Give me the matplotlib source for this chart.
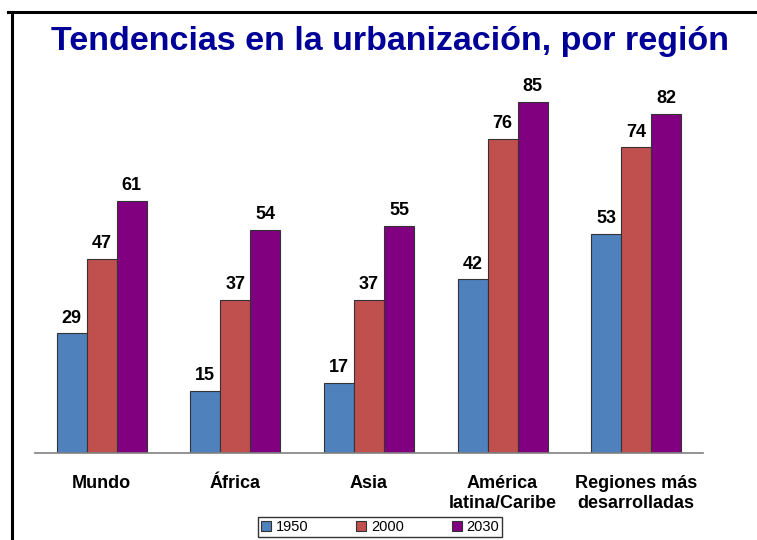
import matplotlib
matplotlib.use("Agg")
import matplotlib.pyplot as plt
from matplotlib.lines import Line2D
from matplotlib.patches import Patch
import numpy as np

plt.rcParams['font.family'] = ['Liberation Sans', 'DejaVu Sans']

categories = ["Mundo", "África", "Asia", "América\nlatina/Caribe", "Regiones más\ndesarrolladas"]
years = ["1950", "2000", "2030"]
v1950 = [29, 15, 17, 42, 53]
v2000 = [47, 37, 37, 76, 74]
v2030 = [61, 54, 55, 85, 82]
series = [v1950, v2000, v2030]
colors = ["#4F81BD", "#C0504D", "#800080"]

fig = plt.figure(figsize=(7.57, 5.4), dpi=100)
ax = fig.add_axes([35/757, 1-453/540, (703-35)/757, (453-81)/540])

x = np.arange(len(categories))
w = 0.225
for i, (vals, c, lab) in enumerate(zip(series, colors, years)):
    pos = x + (i - 1) * w
    ax.bar(pos, vals, width=w, color=c, edgecolor="#333333", linewidth=0.8, label=lab)
    for p, v in zip(pos, vals):
        ax.text(p, v + 1.6, str(v), ha="center", va="bottom", fontsize=13, fontweight="bold")

ax.set_xlim(-0.5, len(categories) - 0.5)
ax.set_ylim(0, 90)
for s in ["top", "right", "left"]:
    ax.spines[s].set_visible(False)
ax.spines["bottom"].set_color("#808080")
ax.spines["bottom"].set_linewidth(1.2)
ax.set_yticks([])
ax.set_xticks(x)
ax.set_xticklabels(categories, fontsize=13, fontweight="bold", linespacing=1.2)
ax.tick_params(axis="x", length=0, pad=16)

fig.text(390/757, 1-42/540, "Tendencias en la urbanización, por región", ha="center", va="center",
         fontsize=24.5, fontweight="bold", color="#000099")

handles = [Patch(facecolor=c, edgecolor="#333333", linewidth=0.8) for c in colors]
leg = fig.legend(handles, years, loc="center", bbox_to_anchor=(380/757, 1-527/540), ncol=3,
                 fontsize=10.5, frameon=True, fancybox=False, edgecolor="black",
                 handlelength=0.7, handleheight=0.7, handletextpad=0.3, columnspacing=3.3,
                 borderpad=0.2)
leg.get_frame().set_linewidth(1.0)

fig.add_artist(Line2D([8/757, 1], [1-12/540, 1-12/540], color="black", linewidth=2.2))
fig.add_artist(Line2D([12/757, 12/757], [0, 1-12/540], color="black", linewidth=2.2))

fig.savefig("out.png", dpi=100)
